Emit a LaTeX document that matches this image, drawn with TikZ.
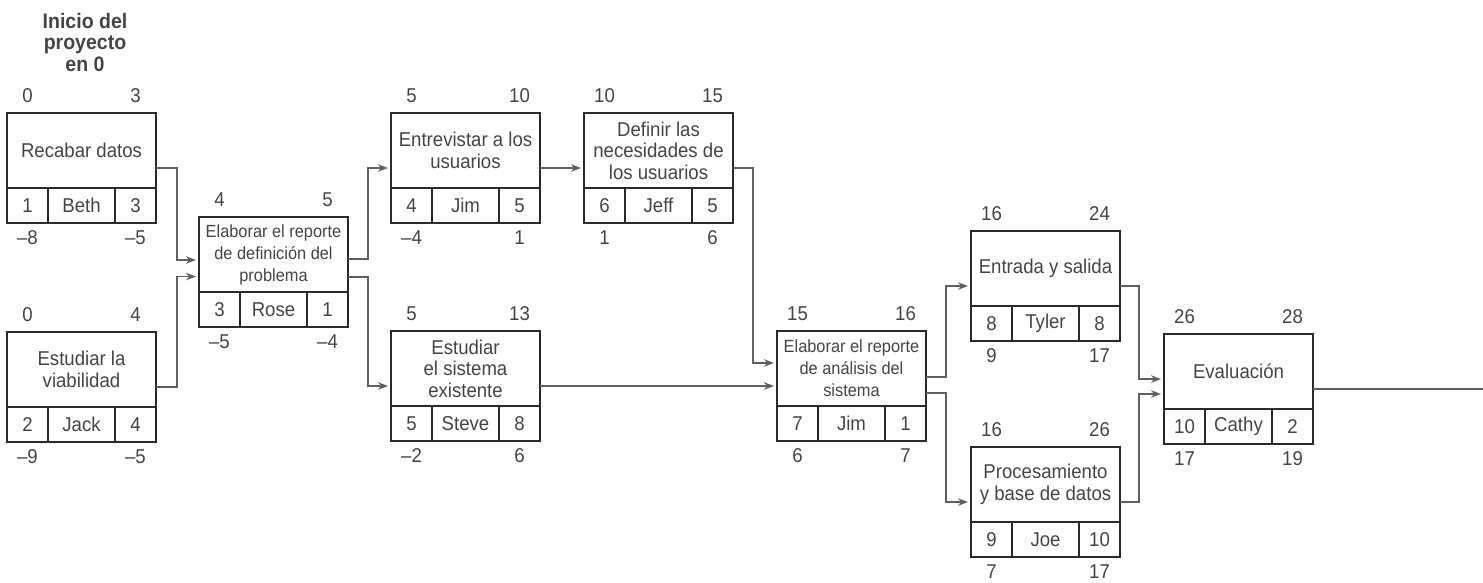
\documentclass[tikz,border=0pt]{standalone}
\usepackage{fontspec}
\setmainfont[FakeStretch=0.93]{Liberation Sans}
\usetikzlibrary{arrows.meta,calc}
\definecolor{txt}{HTML}{454545}
\definecolor{edge}{HTML}{2A2A2A}
\definecolor{conncol}{HTML}{606060}
\tikzset{
  boxframe/.style={draw=edge, line width=1.8pt, minimum width=149pt, minimum height=110pt, anchor=north west, inner sep=0pt, outer sep=0pt},
  cellbox/.style={draw=edge, line width=1.8pt, minimum height=35pt, inner sep=0pt, outer sep=0pt, anchor=south west, text=txt, font=\fontsize{20}{21}\selectfont},
  maintext/.style={text=txt, align=center, inner sep=0pt, font=\fontsize{20}{21.5}\selectfont},
  smalltext/.style={text=txt, align=center, inner sep=0pt, font=\fontsize{17.6}{22}\selectfont},
  numlbl/.style={text=txt, inner sep=0pt, font=\fontsize{20}{21}\selectfont},
  conn/.style={draw=conncol, line width=1.8pt, -{Stealth[length=10pt,width=7.5pt]}, shorten >=3pt},
  connplain/.style={draw=conncol, line width=1.8pt},
  titletext/.style={text=txt, align=center, inner sep=0pt, font=\bfseries\fontsize{21}{21.5}\selectfont}
}
% #1 name, #2 position (north west), #3 text, #4 style of text, #5 left cell, #6 mid cell, #7 right cell
\newcommand\actbox[7]{%
  \node[boxframe] (#1) at (#2) {};
  \node[#4] (#1-t) at ($(#1.north)+(0,37.5)$) {#3};
  \node[cellbox, minimum width=41pt] (#1-l) at (#1.south west) {#5};
  \node[cellbox, minimum width=67pt] (#1-m) at (#1-l.south east) {#6};
  \node[cellbox, minimum width=41pt] (#1-r) at (#1-m.south east) {#7};
}
% #1 name, #2 ES, #3 EF, #4 LS, #5 LF
\newcommand\boxnums[5]{%
  \node[numlbl] (#1-es) at ($(#1.north west)+(20.5,-17)$) {#2};
  \node[numlbl] (#1-ef) at ($(#1.north east)+(-20.5,-17)$) {#3};
  \node[numlbl] (#1-ls) at ($(#1.south west)+(20.5,15)$) {#4};
  \node[numlbl] (#1-lf) at ($(#1.south east)+(-20.5,15)$) {#5};
}
\begin{document}
\begin{tikzpicture}[x=1pt,y=-1pt]
\useasboundingbox (0,0) rectangle (1483,582);

\node[titletext] (title) at (85,42) {Inicio del\\proyecto\\en 0};

\actbox{recabar}{7,113}{Recabar datos}{maintext}{1}{Beth}{3}
\boxnums{recabar}{0}{3}{–8}{–5}

\actbox{viab}{7,332}{Estudiar la\\viabilidad}{maintext}{2}{Jack}{4}
\boxnums{viab}{0}{4}{–9}{–5}

\actbox{rose}{199,217}{Elaborar el reporte\\de definición del\\problema}{smalltext}{3}{Rose}{1}
\boxnums{rose}{4}{5}{–5}{–4}

\actbox{entrev}{391,113}{Entrevistar a los\\usuarios}{maintext}{4}{Jim}{5}
\boxnums{entrev}{5}{10}{–4}{1}

\actbox{steve}{391,331}{Estudiar\\el sistema\\existente}{maintext}{5}{Steve}{8}
\boxnums{steve}{5}{13}{–2}{6}

\actbox{defin}{584,113}{Definir las\\necesidades de\\los usuarios}{maintext}{6}{Jeff}{5}
\boxnums{defin}{10}{15}{1}{6}

\actbox{analisis}{777,331}{Elaborar el reporte\\de análisis del\\sistema}{smalltext}{7}{Jim}{1}
\boxnums{analisis}{15}{16}{6}{7}

\actbox{entrada}{971,231}{Entrada y salida}{maintext}{8}{Tyler}{8}
\boxnums{entrada}{16}{24}{9}{17}

\actbox{proc}{971,447}{Procesamiento\\y base de datos}{maintext}{9}{Joe}{10}
\boxnums{proc}{16}{26}{7}{17}

\actbox{eval}{1164,334}{Evaluación}{maintext}{10}{Cathy}{2}
\boxnums{eval}{26}{28}{17}{19}

\coordinate (endpt) at (1483,389);

% connectors
\draw[conn] (recabar.east) -- ++(21,0) |- ([yshift=12pt]rose.west);
\draw[conn] (viab.east) -- ++(21,0) |- ([yshift=-4.5pt]rose.west);
\draw[conn] ([yshift=13pt]rose.east) -- ++(20,0) |- (entrev.west);
\draw[conn] ([yshift=-5pt]rose.east) -- ++(20,0) |- (steve.west);
\draw[conn] (entrev.east) -- (defin.west);
\draw[conn] (defin.east) -- ++(20,0) |- ([yshift=23pt]analisis.west);
\draw[conn] (steve.east) -- (steve.east -| analisis.west);
\draw[conn] ([yshift=9pt]analisis.east) -- ++(20,0) |- (entrada.west);
\draw[conn] ([yshift=-7pt]analisis.east) -- ++(20,0) |- (proc.west);
\draw[conn] (entrada.east) -- ++(19,0) |- ([yshift=10pt]eval.west);
\draw[conn] (proc.east) -- ++(19,0) |- ([yshift=-5pt]eval.west);
\draw[connplain] (eval.east) -- (eval.east -| endpt);
\end{tikzpicture}
\end{document}
